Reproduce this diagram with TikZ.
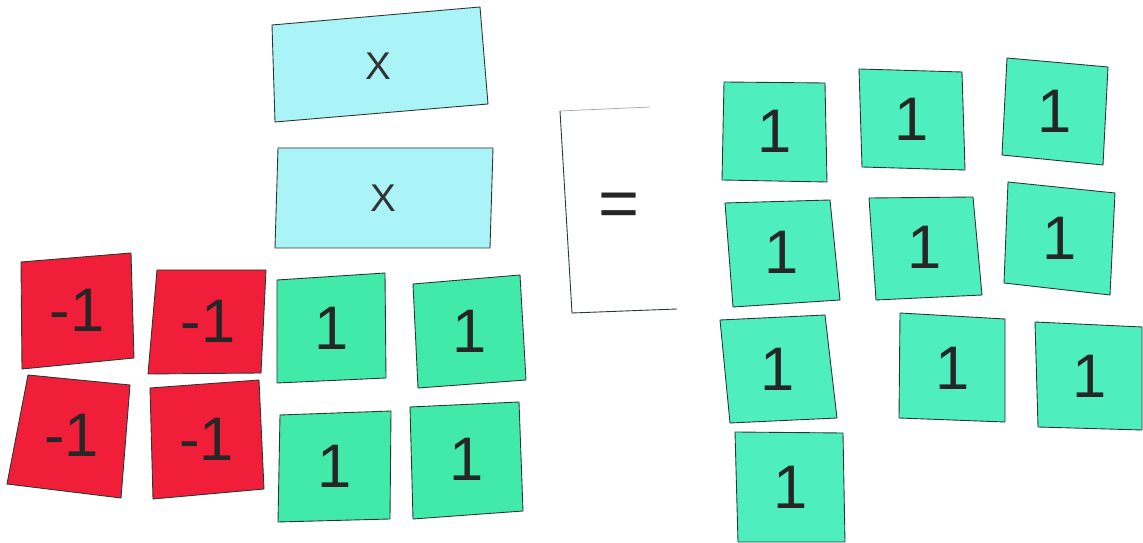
\documentclass[tikz,border=0pt]{standalone}
\usepackage{fontspec}
\setmainfont{Liberation Sans}
\usetikzlibrary{calc}
\definecolor{tilered}{RGB}{240,30,56}
\definecolor{tilegreen}{RGB}{66,234,170}
\definecolor{tilegreenB}{RGB}{78,238,190}
\definecolor{tilecyan}{RGB}{170,243,246}
\definecolor{edge}{RGB}{40,55,50}
\newcommand\tq[7]{%
  \filldraw[tileshape,fill=#2] (#3) -- (#4) -- (#5) -- (#6) -- cycle;
  \node[lbl] (#1) at ($($(#3)!0.5!(#5)$)!0.5!($(#4)!0.5!(#6)$)$) {#7};}
\begin{document}
\begin{tikzpicture}[x=0.02cm,y=-0.02cm,
  tileshape/.style={draw=edge,line width=0.5pt},
  lbl/.style={font=\fontsize{35}{35}\selectfont,text=black!85},
  xlbl/.style={font=\fontsize{22}{22}\selectfont,text=black!80},
  eqlbl/.style={font=\fontsize{40}{40}\selectfont,text=black!85}]
\useasboundingbox[fill=white] (0,0) rectangle (1143,543);
% x tiles
\filldraw[tileshape,fill=tilecyan] (272,25) -- (480,7) -- (488,104) -- (275,122) -- cycle;
\node[xlbl] (x1) at (378,66) {X};
\filldraw[tileshape,fill=tilecyan] (278,148) -- (493,148) -- (490,248) -- (275,248) -- cycle;
\node[xlbl] (x2) at (383,198) {X};
% equals card
\fill[white] (560,111) -- (680,105) -- (677,309) -- (572,313) -- cycle;
\draw[black!35,line width=0.4pt] (650,107) -- (560,111);
\draw[edge,line width=0.5pt] (560,111) -- (572,313) -- (677,309);
\node[eqlbl] (eq) at (619,210) {=};
% red tiles
\tq{r1}{tilered}{21,262}{131,253}{134,358}{22,369}{-1}
\tq{r2}{tilered}{157,270}{266,270}{261,373}{148,374}{-1}
\tq{r3}{tilered}{28,375}{130,385}{121,498}{7,484}{-1}
\tq{r4}{tilered}{150,388}{259,380}{264,489}{153,499}{-1}
% left green tiles
\tq{g1}{tilegreen}{277,280}{385,273}{386,378}{277,383}{1}
\tq{g2}{tilegreen}{413,284}{520,275}{526,380}{418,388}{1}
\tq{g3}{tilegreen}{280,415}{391,411}{390,519}{278,522}{1}
\tq{g4}{tilegreen}{410,407}{519,402}{523,511}{413,519}{1}
% right green tiles
\tq{a1}{tilegreenB}{724,82}{825,83}{827,182}{722,180}{1}
\tq{a2}{tilegreenB}{859,69}{962,72}{965,170}{862,167}{1}
\tq{a3}{tilegreenB}{1007,58}{1108,67}{1103,165}{1002,155}{1}
\tq{b1}{tilegreenB}{725,203}{830,200}{840,300}{733,307}{1}
\tq{b2}{tilegreenB}{869,198}{973,197}{982,295}{876,300}{1}
\tq{b3}{tilegreenB}{1008,182}{1115,193}{1110,295}{1004,283}{1}
\tq{c1}{tilegreenB}{720,320}{825,315}{837,418}{730,423}{1}
\tq{c2}{tilegreenB}{900,313}{1005,319}{1005,422}{899,418}{1}
\tq{c3}{tilegreenB}{1035,322}{1142,327}{1142,430}{1038,427}{1}
\tq{d1}{tilegreenB}{735,432}{843,433}{845,542}{738,542}{1}
\end{tikzpicture}
\end{document}
